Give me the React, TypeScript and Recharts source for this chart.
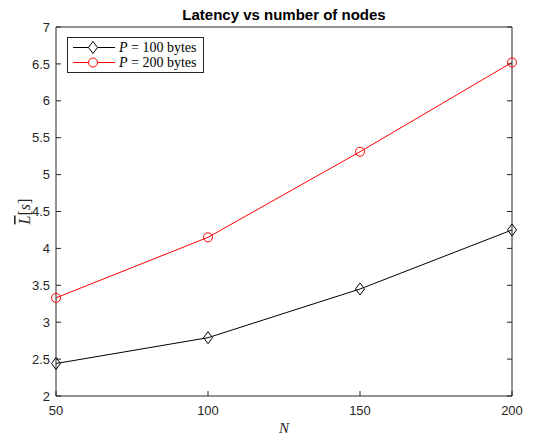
import React from "react";
import { LineChart, Line, XAxis, YAxis, Legend, Label } from "recharts";

// values
const nodes = [50, 100, 150, 200];
const latency100 = [2.44, 2.79, 3.45, 4.25];
const latency200 = [3.33, 4.15, 5.31, 6.52];
const xTicks = [50, 100, 150, 200];
const yTicks = [2, 2.5, 3, 3.5, 4, 4.5, 5, 5.5, 6, 6.5, 7];

const data = nodes.map((n, i) => ({ n, p100: latency100[i], p200: latency200[i] }));

const axisColor = "#262626";
const tickStyle = { fontSize: 13, fill: axisColor, fontFamily: "'Liberation Sans', Arial, sans-serif" };
const serif = "'Liberation Serif', 'DejaVu Serif', serif";

const Diamond = (props: any) => {
  const { cx, cy } = props;
  if (cx == null || cy == null) return null;
  return (
    <path
      d={`M${cx},${cy - 6} L${cx + 4.5},${cy} L${cx},${cy + 6} L${cx - 4.5},${cy} Z`}
      fill="none"
      stroke="#000"
      strokeWidth={1}
    />
  );
};

const legendItems = [
  { label: "100", color: "#000", marker: "diamond" },
  { label: "200", color: "#ff0000", marker: "circle" },
];

const LegendBox = () => (
  <div
    style={{
      border: "1px solid #262626",
      background: "#fff",
      padding: "2px 6px 2px 4px",
      fontFamily: serif,
      fontSize: 14,
      color: "#000",
      lineHeight: "15px",
    }}
  >
    {legendItems.map((it) => (
      <div key={it.label} style={{ display: "flex", alignItems: "center", whiteSpace: "nowrap" }}>
        <svg width={44} height={15} style={{ marginRight: 3 }}>
          <line x1={1} y1={7.5} x2={43} y2={7.5} stroke={it.color} strokeWidth={1} />
          {it.marker === "diamond" ? (
            <path d="M21,1.5 L25.5,7.5 L21,13.5 L16.5,7.5 Z" fill="#fff" stroke={it.color} />
          ) : (
            <circle cx={21} cy={7.5} r={4.5} fill="#fff" stroke={it.color} />
          )}
        </svg>
        <span>
          <i>P</i>&nbsp;=&nbsp;{it.label}&nbsp;bytes
        </span>
      </div>
    ))}
  </div>
);

const YLabel = (props: any) => {
  const { viewBox } = props;
  const cx = viewBox.x + 26;
  const cy = viewBox.y + viewBox.height / 2;
  return (
    <text
      x={cx}
      y={cy}
      transform={`rotate(-90, ${cx}, ${cy})`}
      textAnchor="middle"
      dominantBaseline="middle"
      fontFamily={serif}
      fontSize={16}
      fill={axisColor}
    >
      <tspan fontStyle="italic" textDecoration="overline">L</tspan>
      <tspan>[</tspan>
      <tspan fontStyle="italic">s</tspan>
      <tspan>]</tspan>
    </text>
  );
};

export default function App() {
  return (
    <div style={{ position: "absolute", left: 0, top: 0, background: "#fff" }}>
      <LineChart width={536} height={436} data={data} margin={{ top: 26, right: 23, bottom: 0, left: 0 }}>
        <text
          x={284}
          y={20}
          textAnchor="middle"
          fontFamily="'Liberation Sans', Arial, sans-serif"
          fontWeight="bold"
          fontSize={15}
          fill="#000"
        >
          Latency vs number of nodes
        </text>
        <XAxis
          dataKey="n"
          type="number"
          domain={[50, 200]}
          ticks={xTicks}
          height={40}
          tickSize={-5}
          tickMargin={15}
          stroke={axisColor}
          tick={tickStyle}
        >
          <Label
            value="N"
            position="insideBottom"
            offset={3}
            style={{ fontFamily: serif, fontStyle: "italic", fontSize: 15, fill: axisColor }}
          />
        </XAxis>
        <XAxis
          xAxisId="top"
          orientation="top"
          type="number"
          domain={[50, 200]}
          allowDataOverflow
          ticks={xTicks}
          height={1}
          tickSize={-5}
          stroke={axisColor}
          tickFormatter={() => ""}
        />
        <YAxis
          type="number"
          domain={[2, 7]}
          ticks={yTicks}
          width={56}
          tickSize={-5}
          tickMargin={11}
          stroke={axisColor}
          tick={tickStyle}
          label={<YLabel />}
        />
        <YAxis
          yAxisId="right"
          orientation="right"
          type="number"
          domain={[2, 7]}
          allowDataOverflow
          ticks={yTicks}
          width={1}
          tickSize={-5}
          stroke={axisColor}
          tickFormatter={() => ""}
        />
        <Legend
          layout="vertical"
          align="center"
          verticalAlign="middle"
          content={() => <LegendBox />}
          wrapperStyle={{ left: 67, top: 37, width: "auto", height: "auto" }}
        />
        <Line
          dataKey="p100"
          name="P = 100 bytes"
          stroke="#000"
          strokeWidth={1}
          dot={<Diamond />}
          activeDot={false}
          isAnimationActive={false}
        />
        <Line
          dataKey="p200"
          name="P = 200 bytes"
          stroke="#ff0000"
          strokeWidth={1}
          dot={{ r: 4.5, fill: "none", stroke: "#ff0000", strokeWidth: 1 }}
          activeDot={false}
          isAnimationActive={false}
        />
      </LineChart>
    </div>
  );
}
